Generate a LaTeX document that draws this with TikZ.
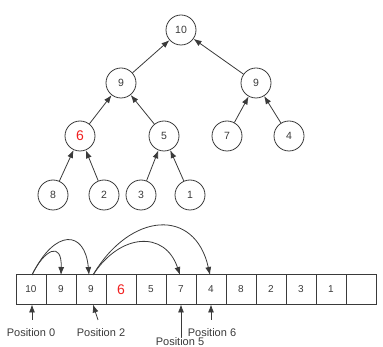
\documentclass[tikz,border=0pt]{standalone}
\usepackage{fontspec}
\setmainfont{Liberation Sans}
\usetikzlibrary{arrows.meta}
\definecolor{ink}{HTML}{3A3A3A}
\definecolor{hl}{HTML}{F02020}
\begin{document}
\begin{tikzpicture}[x=1pt,y=-1pt,
  tn/.style={circle,draw=ink,line width=0.8pt,minimum size=30pt,inner sep=0pt,font=\fontsize{10.5}{12}\selectfont,text=ink},
  cell/.style={rectangle,draw=ink,line width=0.8pt,minimum width=30pt,minimum height=29.5pt,inner sep=0pt,font=\fontsize{10}{12}\selectfont,text=ink},
  arr/.style={draw=ink,line width=0.8pt,-{Latex[length=8pt,width=6pt]}},
  poslabel/.style={font=\fontsize{11}{13}\selectfont,text=ink,inner sep=0pt},
  red6/.style={text=hl,font=\fontsize{14}{16}\selectfont}]
\useasboundingbox (0,0) rectangle (383,347);
% tree
\node[tn] (t10) at (181,30) {10};
\node[tn] (t9a) at (121,83) {9};
\node[tn] (t9b) at (256,83) {9};
\node[tn,red6] (t6) at (80,136) {6};
\node[tn] (t5) at (164,136) {5};
\node[tn] (t7) at (227,136) {7};
\node[tn] (t4) at (289,136) {4};
\node[tn] (t8) at (53,195) {8};
\node[tn] (t2) at (104,195) {2};
\node[tn] (t3) at (141,195) {3};
\node[tn] (t1) at (190,195) {1};
\draw[arr] (t9a) -- (t10);
\draw[arr] (t9b) -- (t10);
\draw[arr] (t6) -- (t9a);
\draw[arr] (t5) -- (t9a);
\draw[arr] (t7) -- (t9b);
\draw[arr] (t4) -- (t9b);
\draw[arr] (t8) -- (t6);
\draw[arr] (t2) -- (t6);
\draw[arr] (t3) -- (t5);
\draw[arr] (t1) -- (t5);
% array
\node[cell] (c0) at (31,289.5) {10};
\node[cell] (c1) at (61,289.5) {9};
\node[cell] (c2) at (91,289.5) {9};
\node[cell,red6] (c3) at (121,289.5) {6};
\node[cell] (c4) at (151,289.5) {5};
\node[cell] (c5) at (181,289.5) {7};
\node[cell] (c6) at (211,289.5) {4};
\node[cell] (c7) at (241,289.5) {8};
\node[cell] (c8) at (271,289.5) {2};
\node[cell] (c9) at (301,289.5) {3};
\node[cell] (c10) at (331,289.5) {1};
\node[cell] (c11) at (361,289.5) {};
% arcs
\coordinate (s0) at (32,275);
\coordinate (s2) at (93,275);
\coordinate (e1) at (61,275);
\coordinate (e2) at (89,275);
\coordinate (e5) at (180,275);
\coordinate (e6) at (210,275);
\draw[arr] (s0) .. controls (44,250) and (62,240) .. (e1);
\draw[arr] (s0) .. controls (55,228) and (85,230) .. (e2);
\draw[arr] (s2) .. controls (120,233) and (165,230) .. (e5);
\draw[arr] (s2) .. controls (130,212) and (195,207) .. (e6);
% position pointers
\node[poslabel,anchor=base] (p0) at (31,337) {Position 0};
\node[poslabel,anchor=base] (p2) at (101,337) {Position 2};
\node[poslabel,anchor=base] (p6) at (212,337) {Position 6};
\node[poslabel,anchor=base,fill=white,inner sep=0.5pt] (p5) at (180,346) {Position 5};
\coordinate (b0) at (32,304.5);
\coordinate (b2) at (93,304.5);
\coordinate (b5) at (181,304.5);
\coordinate (b6) at (211,304.5);
\coordinate (q0) at (32,320);
\coordinate (q2) at (98,320);
\coordinate (q6) at (211,320);
\draw[arr] (q0) -- (b0);
\draw[arr] (q2) -- (b2);
\draw[arr] (p5.north -| b5) -- (b5);
\draw[arr] (q6) -- (b6);
\end{tikzpicture}
\end{document}
